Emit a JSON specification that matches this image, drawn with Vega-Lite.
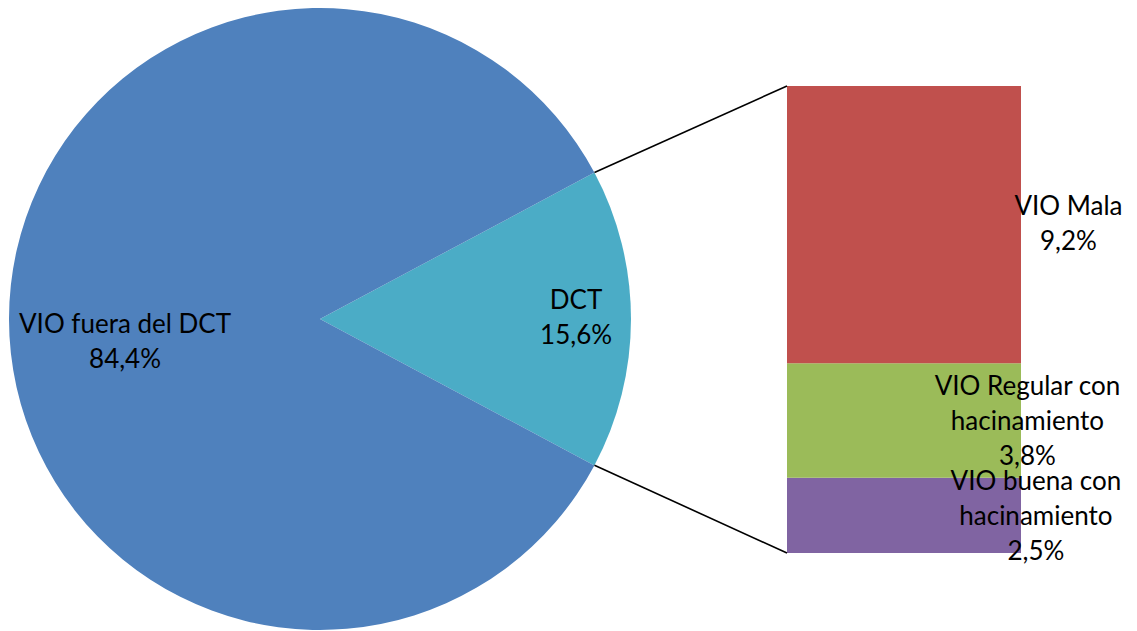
{
  "$schema": "https://vega.github.io/schema/vega-lite/v6.json",
  "width": 1137,
  "height": 631,
  "autosize": {"type": "fit", "contains": "padding"},
  "padding": 0,
  "background": "white",
  "config": {
    "view": {"stroke": null},
    "text": {"font": "Lato", "fontSize": 26, "color": "black", "lineHeight": 35, "lineBreak": "\n", "align": "center", "baseline": "middle"}
  },
  "datasets": {
    "pie": [
      {"cat": "DCT", "value": 15.6, "label": "DCT\n15,6%"},
      {"cat": "VIO fuera del DCT", "value": 84.4, "label": "VIO fuera del DCT\n84,4%"}
    ],
    "bar": [
      {"cat": "VIO buena con hacinamiento", "value": 2.5, "label": "VIO buena con\nhacinamiento\n2,5%"},
      {"cat": "VIO Regular con hacinamiento", "value": 3.8, "label": "VIO Regular con\nhacinamiento\n3,8%"},
      {"cat": "VIO Mala", "value": 9.2, "label": "VIO Mala\n9,2%"}
    ],
    "links": [
      {"x": -6.39, "y": 12.63, "x2": 0, "y2": 15.5},
      {"x": -6.39, "y": 2.91, "x2": 0, "y2": 0}
    ]
  },
  "layer": [
    {
      "data": {"name": "pie"},
      "mark": {"type": "arc", "radius": 311},
      "encoding": {
        "x": {"datum": -15.5, "type": "quantitative", "scale": {"domain": [-26.12, 11.616], "nice": false, "zero": false}, "axis": null},
        "y": {"datum": 7.766, "type": "quantitative", "scale": {"domain": [-2.589, 18.354], "nice": false, "zero": false}, "axis": null},
        "theta": {"field": "value", "type": "quantitative", "stack": true, "scale": {"range": [1.0807, 7.3639]}},
        "order": {"field": "value", "type": "quantitative", "sort": "ascending"},
        "color": {
          "field": "cat", "type": "nominal", "legend": null,
          "scale": {
            "domain": ["VIO fuera del DCT", "DCT", "VIO Mala", "VIO Regular con hacinamiento", "VIO buena con hacinamiento"],
            "range": ["#4F81BD", "#4BACC6", "#C0504D", "#9BBB59", "#8064A2"]
          }
        }
      }
    },
    {
      "data": {"name": "bar"},
      "transform": [
        {"stack": "value", "groupby": [], "sort": [{"field": "value", "order": "ascending"}], "as": ["v0", "v1"]}
      ],
      "mark": {"type": "bar"},
      "encoding": {
        "x": {"datum": 0, "type": "quantitative"},
        "x2": {"datum": 7.766},
        "y": {"field": "v0", "type": "quantitative"},
        "y2": {"field": "v1"},
        "color": {
          "field": "cat", "type": "nominal", "legend": null,
          "scale": {
            "domain": ["VIO fuera del DCT", "DCT", "VIO Mala", "VIO Regular con hacinamiento", "VIO buena con hacinamiento"],
            "range": ["#4F81BD", "#4BACC6", "#C0504D", "#9BBB59", "#8064A2"]
          }
        }
      }
    },
    {
      "data": {"name": "links"},
      "mark": {"type": "rule", "color": "black", "strokeWidth": 1.6},
      "encoding": {
        "x": {"field": "x", "type": "quantitative"},
        "y": {"field": "y", "type": "quantitative"},
        "x2": {"field": "x2"},
        "y2": {"field": "y2"}
      }
    },
    {
      "data": {"name": "pie"},
      "transform": [{"filter": "datum.cat === 'VIO fuera del DCT'"}],
      "mark": {"type": "text"},
      "encoding": {
        "x": {"datum": -21.97, "type": "quantitative"},
        "y": {"datum": 7.58, "type": "quantitative"},
        "text": {"field": "label", "type": "nominal"}
      }
    },
    {
      "data": {"name": "pie"},
      "transform": [{"filter": "datum.cat === 'DCT'"}],
      "mark": {"type": "text"},
      "encoding": {
        "x": {"datum": -7.0, "type": "quantitative"},
        "y": {"datum": 8.36, "type": "quantitative"},
        "text": {"field": "label", "type": "nominal"}
      }
    },
    {
      "data": {"name": "bar"},
      "transform": [{"filter": "datum.cat === 'VIO Mala'"}],
      "mark": {"type": "text"},
      "encoding": {
        "x": {"datum": 9.34, "type": "quantitative"},
        "y": {"datum": 11.48, "type": "quantitative"},
        "text": {"field": "label", "type": "nominal"}
      }
    },
    {
      "data": {"name": "bar"},
      "transform": [{"filter": "datum.cat === 'VIO Regular con hacinamiento'"}],
      "mark": {"type": "text"},
      "encoding": {
        "x": {"datum": 7.98, "type": "quantitative"},
        "y": {"datum": 5.51, "type": "quantitative"},
        "text": {"field": "label", "type": "nominal"}
      }
    },
    {
      "data": {"name": "bar"},
      "transform": [{"filter": "datum.cat === 'VIO buena con hacinamiento'"}],
      "mark": {"type": "text"},
      "encoding": {
        "x": {"datum": 8.26, "type": "quantitative"},
        "y": {"datum": 2.36, "type": "quantitative"},
        "text": {"field": "label", "type": "nominal"}
      }
    }
  ]
}
